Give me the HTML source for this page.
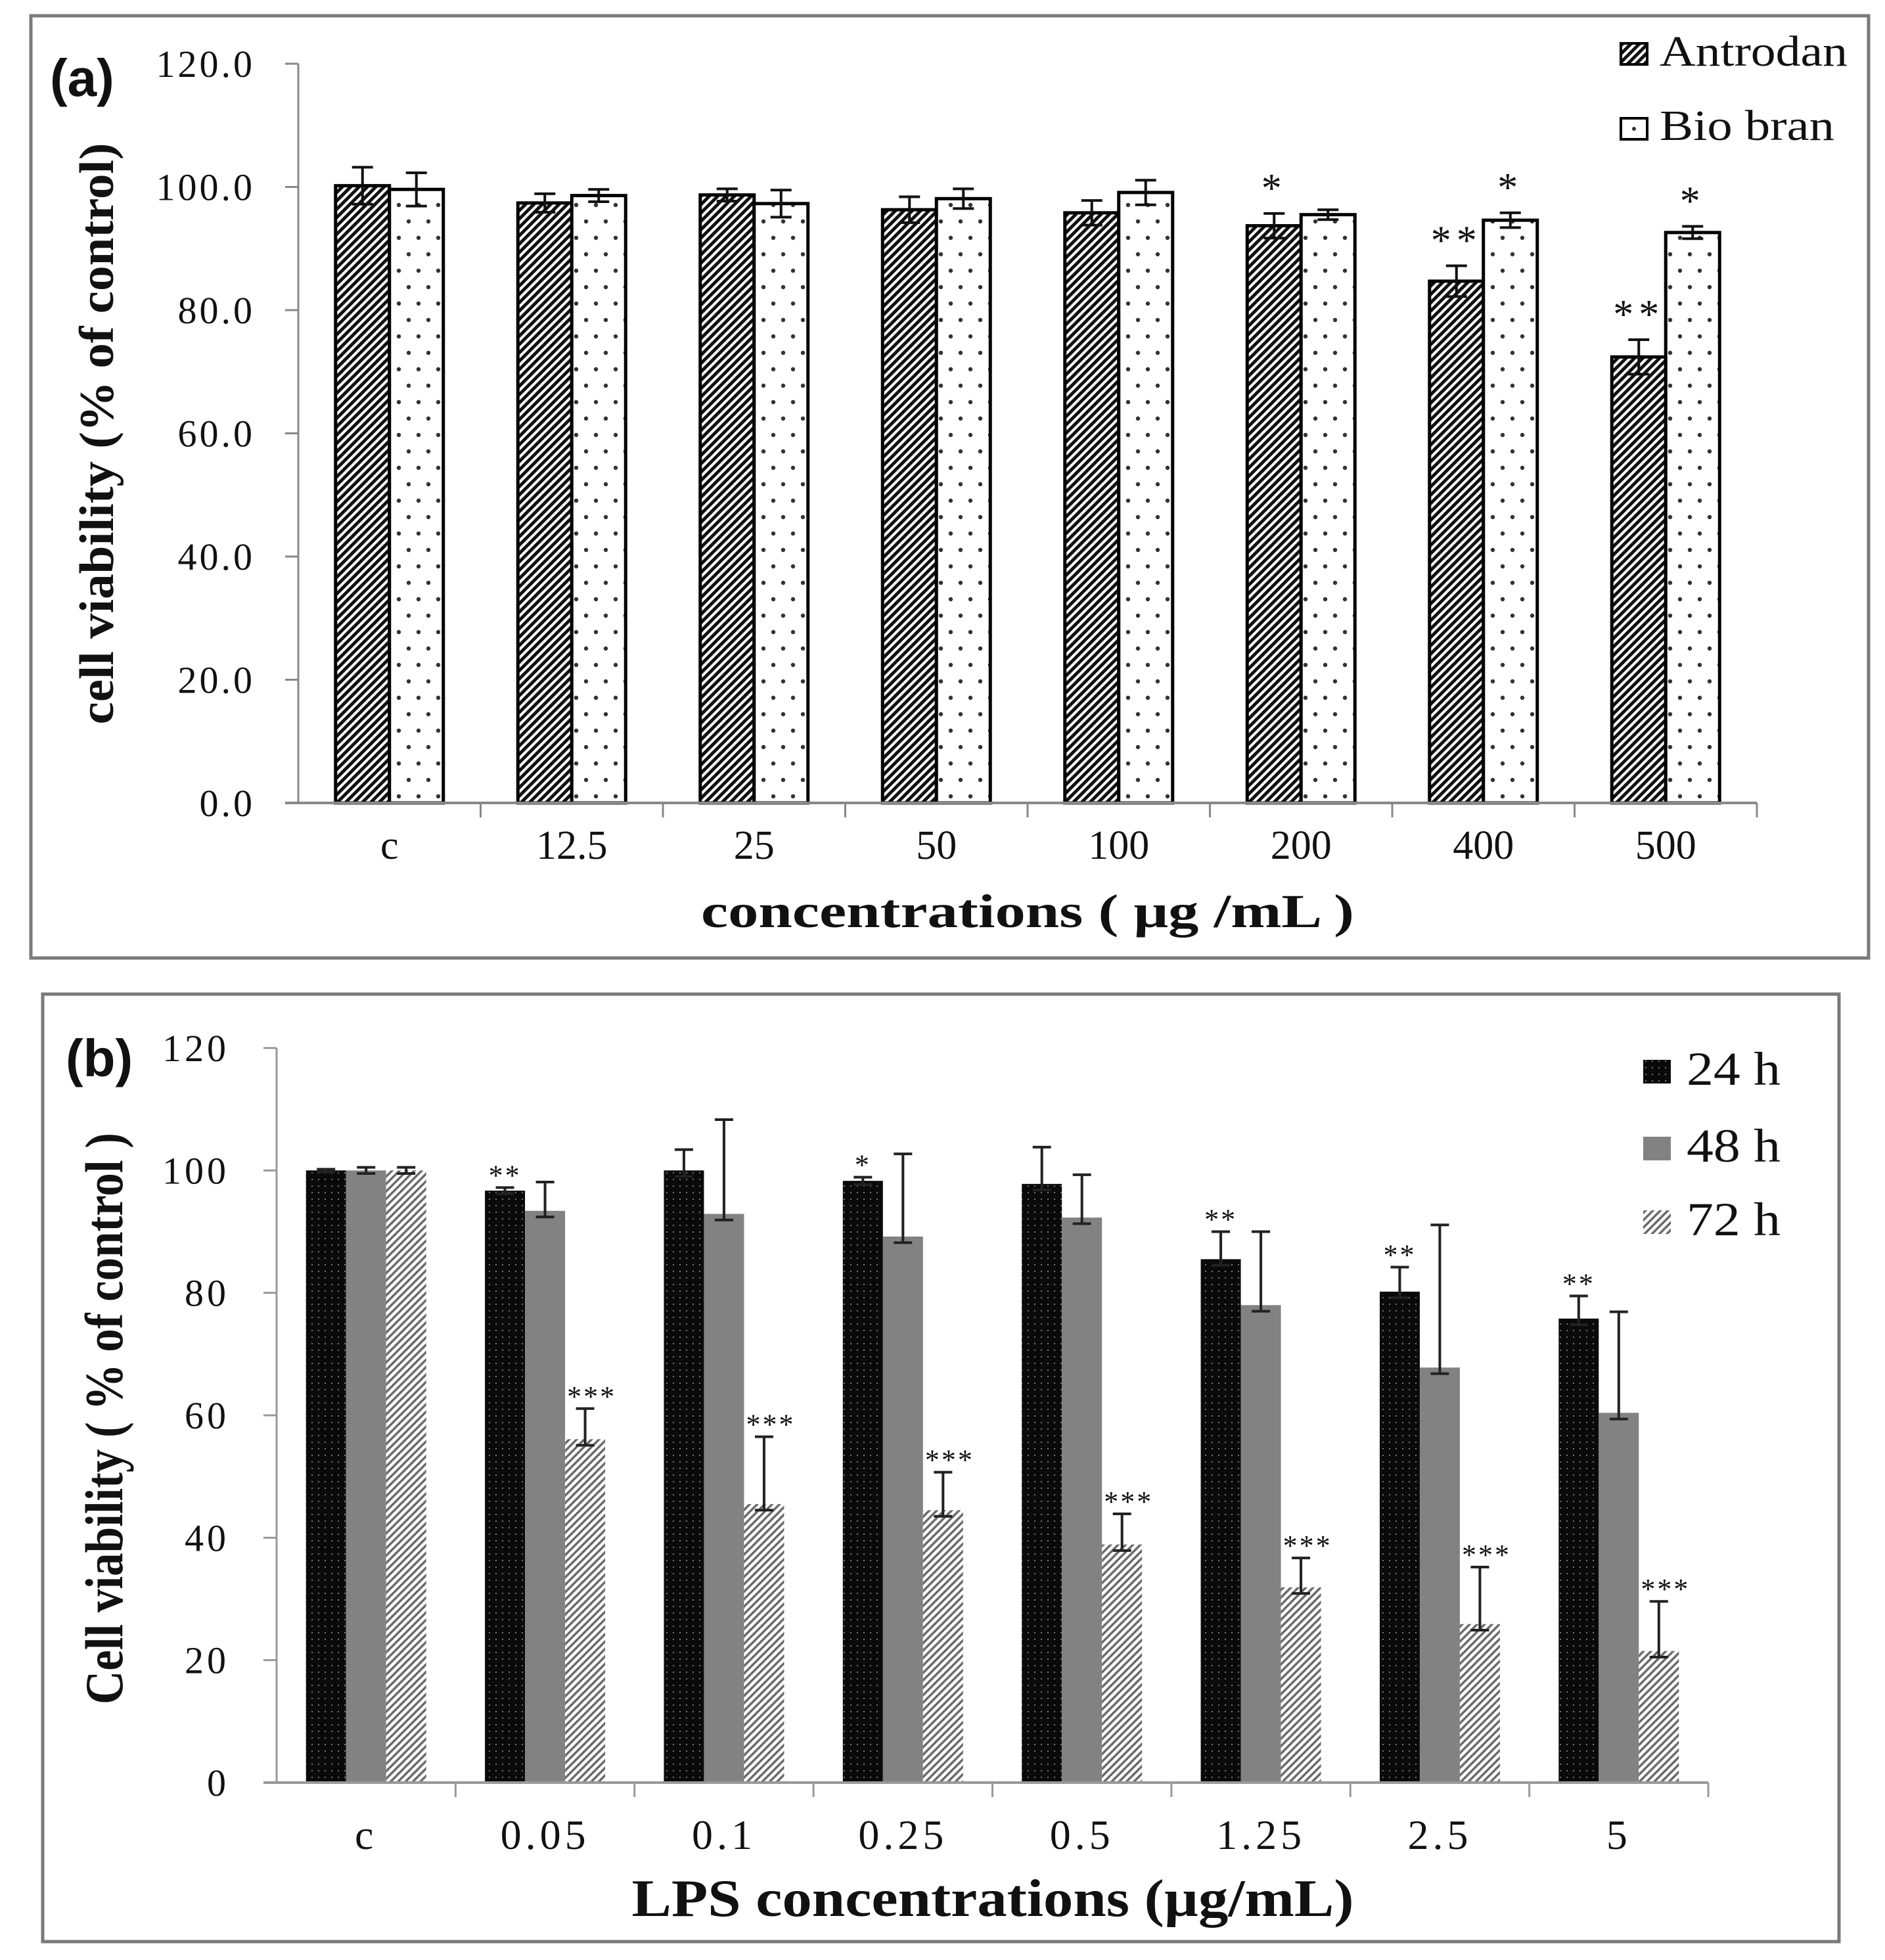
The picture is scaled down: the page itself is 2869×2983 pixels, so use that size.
<!DOCTYPE html>
<html><head><meta charset="utf-8"><style>
html,body{margin:0;padding:0;background:#fff}
svg{display:block}
text{font-family:"Liberation Serif",serif;fill:#111}
</style></head><body>
<svg id="fig" xmlns="http://www.w3.org/2000/svg" width="2869" height="2983" viewBox="0 0 2869 2983">
<defs>
<pattern id="hatchA" patternUnits="userSpaceOnUse" width="9" height="9" patternTransform="rotate(45)">
<rect width="9" height="9" fill="#fff"/><rect width="5" height="9" fill="#111"/></pattern>
<pattern id="dotsB" patternUnits="userSpaceOnUse" width="30" height="50">
<rect width="30" height="50" fill="#fff"/><circle cx="7" cy="12" r="3.2" fill="#333"/><circle cx="22" cy="37" r="3.2" fill="#333"/></pattern>
<pattern id="dots24" patternUnits="userSpaceOnUse" width="10" height="10">
<rect width="10" height="10" fill="#0a0a0a"/><rect x="4" y="4" width="2" height="2" fill="#777"/></pattern>
<pattern id="hatch72" patternUnits="userSpaceOnUse" width="8" height="8" patternTransform="rotate(45)">
<rect width="8" height="8" fill="#fff"/><rect width="3.5" height="8" fill="#6a6a6a"/></pattern>
</defs>
<rect x="47" y="24" width="2797" height="1434" fill="none" stroke="#7a7a7a" stroke-width="5"/>
<rect x="65" y="1513" width="2734" height="1442" fill="none" stroke="#7a7a7a" stroke-width="5"/>
<g id="ga"></g>
<g id="gb"></g>
</svg>
<script>
// Panel (a)
const catsA = ["c","12.5","25","50","100","200","400","500"];
const antrodan = [100.2, 97.4, 98.7, 96.3, 95.8, 93.7, 84.7, 72.4];
const antrodanErr = [3.0, 1.5, 1.0, 2.1, 2.0, 2.0, 2.5, 2.8];
const bioBran = [99.6, 98.6, 97.3, 98.1, 99.1, 95.5, 94.6, 92.6];
const bioBranErr = [2.7, 1.0, 2.2, 1.6, 2.0, 0.8, 1.2, 1.0];
const starsAntrodan = ["","","","","","*","**","**"];
const starsBioBran = ["","","","","","","*","*"];
const ticksA = [0,20,40,60,80,100,120];
const tickLabelsA = ["0.0","20.0","40.0","60.0","80.0","100.0","120.0"];
// Panel (b)
const catsB = ["c","0.05","0.1","0.25","0.5","1.25","2.5","5"];
const h24 = [100, 96.7, 100, 98.3, 97.8, 85.5, 80.2, 75.8];
const h24Err = [0.2, 0.5, 3.4, 0.6, 6.0, 4.5, 4.0, 3.7];
const h48 = [100, 93.4, 92.9, 89.2, 92.3, 78.0, 67.8, 60.4];
const h48Err = [0.5, 4.7, 15.4, 13.5, 7.0, 12.0, 23.3, 16.5];
const h72 = [100, 56.1, 45.5, 44.5, 38.9, 31.9, 25.9, 21.5];
const h72Err = [0.5, 5.0, 11.0, 6.2, 5.0, 4.8, 9.3, 8.1];
const stars24 = ["","**","","*","","**","**","**"];
const stars72 = ["","***","***","***","***","***","***","***"];
const ticksB = [0,20,40,60,80,100,120];

const NS="http://www.w3.org/2000/svg";
function mk(parent,tag,attrs,txt){const e=document.createElementNS(NS,tag);for(const k in attrs)e.setAttribute(k,attrs[k]);if(txt!==undefined)e.textContent=txt;parent.appendChild(e);return e;}

// ---------- panel a ----------
const ga=document.getElementById('ga');
const ax0=454, ax1=2674, ay0=1222, ay1=97;
const yA=v=>ay0-(v/120)*(ay0-ay1);
const stepA=(ax1-ax0)/catsA.length;
const xA=i=>ax0+stepA*(i+0.5);
let l=mk(ga,'line',{x1:ax0,y1:ay1,x2:ax0,y2:ay0,stroke:'#888','stroke-width':3});

ticksA.forEach((t,i)=>{
  mk(ga,'line',{x1:ax0-20,x2:ax0,y1:yA(t),y2:yA(t),stroke:'#888','stroke-width':3});
  const e=mk(ga,'text',{x:388,y:yA(t)+20,'text-anchor':'end','font-size':58,'letter-spacing':4},tickLabelsA[i]);
  
});
catsA.forEach((c,i)=>{
  const cx=xA(i), bw=82;
  mk(ga,'line',{x1:ax0+stepA*(i+1),x2:ax0+stepA*(i+1),y1:ay0,y2:ay0+22,stroke:'#888','stroke-width':3});
  let r=mk(ga,'rect',{x:cx-bw,y:yA(antrodan[i]),width:bw,height:ay0-yA(antrodan[i]),fill:'url(#hatchA)',stroke:'#000','stroke-width':5});
  
  r=mk(ga,'rect',{x:cx,y:yA(bioBran[i]),width:bw,height:ay0-yA(bioBran[i]),fill:'url(#dotsB)',stroke:'#000','stroke-width':5});
  
  [[cx-bw/2,antrodan[i],antrodanErr[i],starsAntrodan[i]],[cx+bw/2,bioBran[i],bioBranErr[i],starsBioBran[i]]].forEach(([x,v,e,s])=>{
    const t=yA(v+e), b=yA(v-e);
    const g=mk(ga,'g',{stroke:'#111','stroke-width':4});
    
    mk(g,'line',{x1:x,x2:x,y1:t,y2:b});mk(g,'line',{x1:x-16,x2:x+16,y1:t,y2:t});mk(g,'line',{x1:x-16,x2:x+16,y1:b,y2:b});
    if(s){const st=mk(ga,'text',{x:x,y:t-18,'text-anchor':'middle','font-size':62,'letter-spacing':8},s);
      }
  });
  const lb=mk(ga,'text',{x:cx,y:1307,'text-anchor':'middle','font-size':62},c);
  
});
l=mk(ga,'line',{x1:ax0-20,y1:ay0,x2:ax1,y2:ay0,stroke:'#888','stroke-width':4});

let t=mk(ga,'text',{x:1564,y:1411,'text-anchor':'middle','font-size':72,'font-weight':'bold',textLength:994,lengthAdjust:'spacingAndGlyphs'},'concentrations ( μg /mL )');

t=mk(ga,'text',{x:0,y:0,transform:'translate(172,660) rotate(-90)','text-anchor':'middle','font-size':74,'font-weight':'bold',textLength:885,lengthAdjust:'spacingAndGlyphs'},'cell viability (% of control)');

t=mk(ga,'text',{x:76,y:146,'font-size':80,'font-weight':'bold',style:'font-family:"Liberation Sans",sans-serif'},'(a)');

// legend a
let lg=mk(ga,'g',{});
let li=mk(lg,'g',{});
mk(li,'rect',{x:2467,y:66,width:40,height:32,fill:'url(#hatchA)',stroke:'#000','stroke-width':4});
mk(li,'text',{x:2526,y:100,'font-size':66,textLength:286,lengthAdjust:'spacingAndGlyphs'},'Antrodan');
li=mk(lg,'g',{});
mk(li,'rect',{x:2467,y:180,width:40,height:32,fill:'#fff',stroke:'#000','stroke-width':4});
mk(li,'circle',{cx:2487,cy:196,r:3,fill:'#333'});
mk(li,'text',{x:2526,y:213,'font-size':66,textLength:266,lengthAdjust:'spacingAndGlyphs'},'Bio bran');

// ---------- panel b ----------
const gb=document.getElementById('gb');
const bx0=421, bx1=2600, by0=2713, by1=1595;
const yB=v=>by0-(v/120)*(by0-by1);
const stepB=(bx1-bx0)/catsB.length;
const xB=i=>bx0+stepB*(i+0.5);
l=mk(gb,'line',{x1:bx0,y1:by1,x2:bx0,y2:by0,stroke:'#999','stroke-width':3});

ticksB.forEach(tk=>{
  mk(gb,'line',{x1:bx0-20,x2:bx0,y1:yB(tk),y2:yB(tk),stroke:'#999','stroke-width':3});
  const e=mk(gb,'text',{x:349,y:yB(tk)+20,'text-anchor':'end','font-size':58,'letter-spacing':5},String(tk));
  
});
catsB.forEach((c,i)=>{
  const cx=xB(i), bw=61;
  mk(gb,'line',{x1:bx0+stepB*(i+1),x2:bx0+stepB*(i+1),y1:by0,y2:by0+22,stroke:'#999','stroke-width':3});
  const sets=[[h24,h24Err,stars24,'url(#dots24)','bar-24h'],[h48,h48Err,null,'#828282','bar-48h'],[h72,h72Err,stars72,'url(#hatch72)','bar-72h']];
  sets.forEach(([vals,errs,stars,fill,nm],k)=>{
    const x=cx-1.5*bw+k*bw, v=vals[i];
    const r=mk(gb,'rect',{x:x,y:yB(v),width:bw,height:by0-yB(v),fill:fill});
    
    const ex=x+bw/2, tt=yB(v+errs[i]), bb=yB(v-Math.min(errs[i],1));
    const g=mk(gb,'g',{stroke:'#222','stroke-width':4});
    
    mk(g,'line',{x1:ex,x2:ex,y1:tt,y2:bb});mk(g,'line',{x1:ex-14,x2:ex+14,y1:tt,y2:tt});mk(g,'line',{x1:ex-14,x2:ex+14,y1:bb,y2:bb});
    if(stars&&stars[i]){const st=mk(gb,'text',{x:ex+(stars[i].length==3?10:0),y:tt-4,'text-anchor':'middle','font-size':44,'letter-spacing':3,fill:'#333'},stars[i]);
      }
  });
  const lb=mk(gb,'text',{x:cx,y:2814,'text-anchor':'middle','font-size':64,'letter-spacing':6},c);
  
});
l=mk(gb,'line',{x1:bx0-20,y1:by0,x2:bx1,y2:by0,stroke:'#999','stroke-width':4});

t=mk(gb,'text',{x:1511,y:2916,'text-anchor':'middle','font-size':80,'font-weight':'bold',textLength:1099,lengthAdjust:'spacingAndGlyphs'},'LPS concentrations (µg/mL)');

t=mk(gb,'text',{x:0,y:0,transform:'translate(186,2159) rotate(-90)','text-anchor':'middle','font-size':82,'font-weight':'bold',textLength:870,lengthAdjust:'spacingAndGlyphs'},'Cell viability ( % of control )');

t=mk(gb,'text',{x:100,y:1638,'font-size':80,'font-weight':'bold',style:'font-family:"Liberation Sans",sans-serif'},'(b)');

lg=mk(gb,'g',{});
[['24 h','url(#dots24)',1651,'legend-entry-24h'],['48 h','#828282',1768,'legend-entry-48h'],['72 h','url(#hatch72)',1880,'legend-entry-72h']].forEach(([lab,fill,yb,nm])=>{
  const g=mk(lg,'g',{});
  mk(g,'rect',{x:2501,y:yb-38,width:42,height:36,fill:fill});
  mk(g,'text',{x:2567,y:yb,'font-size':72,textLength:143,lengthAdjust:'spacingAndGlyphs'},lab);
});
</script>
</body></html>
